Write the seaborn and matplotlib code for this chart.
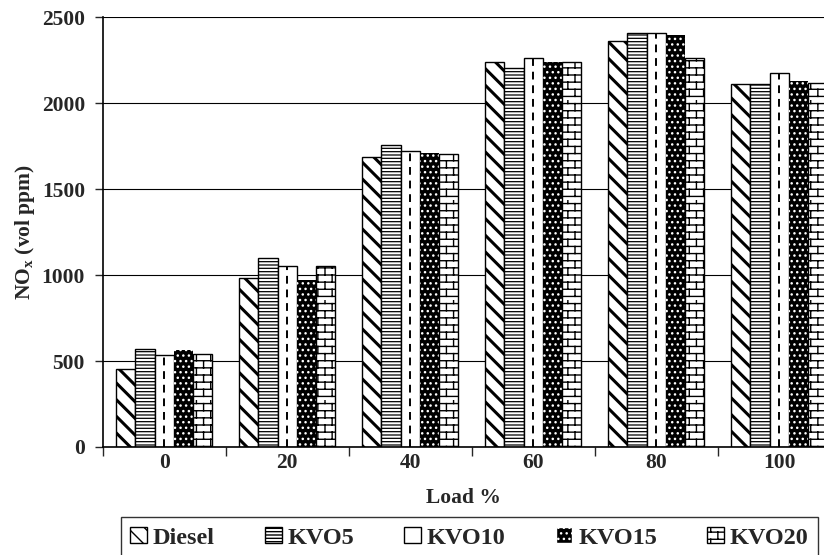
import warnings
import numpy as np
import pandas as pd
import matplotlib
matplotlib.use("Agg")
import matplotlib.pyplot as plt
import matplotlib.hatch as mhatch
from matplotlib.path import Path
import seaborn as sns

warnings.filterwarnings("ignore")

loads = ["0", "20", "40", "60", "80", "100"]
fuels = ["Diesel", "KVO5", "KVO10", "KVO15", "KVO20"]
diesel = [455, 985, 1685, 2243, 2365, 2110]
kvo5 = [570, 1102, 1755, 2207, 2412, 2110]
kvo10 = [533, 1053, 1722, 2262, 2412, 2176]
kvo15 = [562, 970, 1712, 2243, 2396, 2128]
kvo20 = [542, 1053, 1705, 2243, 2265, 2118]


# brick pattern for the KVO20 bars (not one of matplotlib's hatches)
class BrickHatch(mhatch.HatchPatternBase):
    def __init__(self, hatch, density):
        self.rows = hatch.count("B") * 7
        self.bricks = self.rows // 2
        self.num_vertices = self.rows * 2 + self.rows * self.bricks * 2

    def set_vertices_and_codes(self, vertices, codes):
        h = 1.0 / self.rows
        w = 1.0 / self.bricks
        k = 0
        for i in range(self.rows):
            y = (i + 0.5) * h
            vertices[k] = (0, y)
            vertices[k + 1] = (1, y)
            codes[k] = Path.MOVETO
            codes[k + 1] = Path.LINETO
            k += 2
            for j in range(self.bricks):
                x = (j + 0.25 + 0.5 * (i % 2)) * w
                vertices[k] = (x, y)
                vertices[k + 1] = (x, y + h)
                codes[k] = Path.MOVETO
                codes[k + 1] = Path.LINETO
                k += 2


mhatch._hatch_types.append(BrickHatch)

df = pd.DataFrame({
    "load": loads * 5,
    "fuel": np.repeat(fuels, len(loads)),
    "nox": diesel + kvo5 + kvo10 + kvo15 + kvo20,
})

sns.set_style("ticks")
plt.rcParams["font.family"] = ["Liberation Serif", "DejaVu Serif"]
plt.rcParams["font.weight"] = "bold"

fig = plt.figure(figsize=(8.24, 5.55), dpi=100)
ax = fig.add_axes([0.1246, 0.1946, 0.8754, 0.774])

sns.barplot(
    data=df, x="load", y="nox", hue="fuel", order=loads, hue_order=fuels,
    palette=["white"] * 5, saturation=1, width=0.78, gap=0,
    edgecolor="black", linewidth=1.0, errorbar=None, legend=False, ax=ax
)

styles = {
    "Diesel": dict(hatch="\\\\", hlw=2.2),
    "KVO5": dict(hatch="-----", hlw=0.9),
    "KVO10": dict(hatch=None, hlw=1.0),
    "KVO15": dict(hatch="...", hlw=1.0),
    "KVO20": dict(hatch="BB", hlw=1.0),
}

for fuel, cont in zip(fuels, ax.containers):
    st = styles[fuel]
    for p in cont.patches:
        p.set_hatch(st["hatch"])
        if hasattr(p, "set_hatch_linewidth"):
            p.set_hatch_linewidth(st["hlw"])
        if fuel == "KVO15":
            p.set_facecolor("black")
            p.set_edgecolor("white")
            p.set_linewidth(0)
    if fuel == "KVO10":
        xs = [p.get_x() + p.get_width() / 2 for p in cont.patches]
        hs = [p.get_height() for p in cont.patches]
        ax.vlines(xs, 0, hs, colors="black", linewidth=1.4,
                  linestyles=(0, (4, 3)), zorder=3)

ax.set_yticks(range(0, 2501, 500))
ax.set_xticks(range(len(loads)))
ax.set_xticks(np.arange(-0.5, len(loads), 1.0), minor=True)
ax.set_xlim(-0.5, 5.364)
ax.set_ylim(0, 2500)
ax.tick_params(axis="x", which="major", length=0, pad=4.5, labelsize=15.5)
ax.tick_params(axis="x", which="minor", length=6.5, width=1, direction="out")
ax.tick_params(axis="y", length=5.8, width=1, direction="out", pad=7,
               labelsize=15.5)
for lab in ax.get_xticklabels() + ax.get_yticklabels():
    lab.set_fontweight("bold")

ax.yaxis.grid(True, color="black", linewidth=0.8)
ax.set_axisbelow(True)
sns.despine(ax=ax, top=True, right=True)
for s in ["left", "bottom"]:
    ax.spines[s].set_linewidth(1.2)
    ax.spines[s].set_color("black")

ax.set_xlabel("Load %", fontsize=15.5, fontweight="bold", labelpad=10.5)
ax.set_ylabel(r"NO$_\mathregular{x}$ (vol ppm)", fontsize=15.5,
              fontweight="bold", labelpad=3.5)

handles = [cont.patches[0] for cont in ax.containers]
leg = fig.legend(
    handles, fuels, loc="upper center", bbox_to_anchor=(0.5698, 0.0685),
    ncol=5, frameon=True, fancybox=False, edgecolor="black",
    prop={"size": 17.5, "weight": "bold"}, handlelength=0.68,
    handleheight=0.68, handletextpad=0.25, columnspacing=2.06,
    borderaxespad=0, borderpad=0.4
)
leg.get_frame().set_linewidth(1.0)
for h in leg.legend_handles:
    h.set_linewidth(1.0)

fig.savefig("out.png", dpi=100)
